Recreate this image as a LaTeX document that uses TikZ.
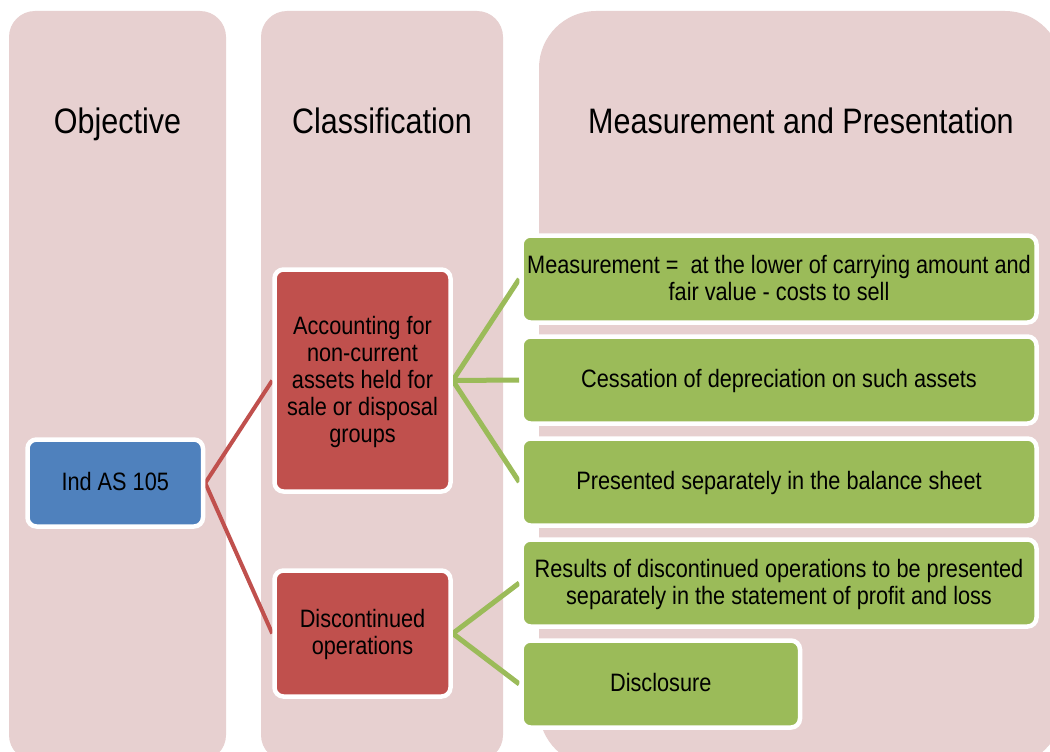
\documentclass[tikz,border=0pt]{standalone}
\usepackage{fontspec}
\setmainfont{Liberation Sans}
\usepackage{graphicx}
\pgfdeclarelayer{cols}
\pgfdeclarelayer{links}
\pgfsetlayers{cols,links,main}

\definecolor{colpink}{RGB}{231,208,208}
\definecolor{boxblue}{RGB}{79,129,189}
\definecolor{boxred}{RGB}{192,80,77}
\definecolor{boxgreen}{RGB}{155,187,89}

\newcommand{\tx}[1]{\raisebox{-2.5pt}[\height][\depth]{\scalebox{1}[1.16]{\begin{tabular}{@{}c@{}}#1\end{tabular}}}}
\newcommand{\ttl}[1]{\scalebox{1}[1.16]{#1}}

\begin{document}
\begin{tikzpicture}[x=1pt,y=-1pt,
  coltitle/.style={anchor=base, inner sep=0pt, font=\fontsize{30.5}{34}\selectfont},
  box/.style={draw=white, line width=4.5pt, rounded corners=9pt, inner sep=0pt,
              font=\fontsize{21.7}{23.3}\selectfont, text=black},
  bluebox/.style={box, fill=boxblue},
  redbox/.style={box, fill=boxred, minimum width=176},
  greenbox/.style={box, fill=boxgreen, minimum height=87},
  redlink/.style={draw=boxred, line width=4pt, line join=miter},
  greenlink/.style={draw=boxgreen, line width=5pt, line join=miter}]

\useasboundingbox (0,0) rectangle (1050,752);

\begin{pgfonlayer}{cols}
  \fill[white] (0,0) rectangle (1050,752);
  \fill[colpink, rounded corners=26] (9,11) rectangle (226,761);
  \fill[colpink, rounded corners=26] (261,11) rectangle (503,761);
  \fill[colpink, rounded corners=57] (539,11) rectangle (1062,766);
\end{pgfonlayer}

% column titles
\node[coltitle] (t1) at (117.5,133) {\ttl{Objective}};
\node[coltitle] (t2) at (382,133) {\ttl{Classification}};
\node[coltitle] (t3) at (801,133) {\ttl{Measurement and Presentation}};

% boxes
\node[bluebox, minimum width=175.5, minimum height=87] (ind) at (115.25,483) {\tx{Ind AS 105}};
\node[redbox, minimum height=222] (acc) at (362.5,380.5)
  {\tx{Accounting for\\non-current\\assets held for\\sale or disposal\\groups}};
\node[redbox, minimum height=126] (disc) at (362.5,633.5) {\tx{Discontinued\\operations}};

\node[greenbox, minimum width=515] (g1) at (779,279)
  {\tx{Measurement =\ \ at the lower of carrying amount and\\fair value - costs to sell}};
\node[greenbox, minimum width=515] (g2) at (779,380) {\tx{Cessation of depreciation on such assets}};
\node[greenbox, minimum width=515] (g3) at (779,482) {\tx{Presented separately in the balance sheet}};
\node[greenbox, minimum width=515] (g4) at (779,583)
  {\tx{Results of discontinued operations to be presented\\separately in the statement of profit and loss}};
\node[greenbox, minimum width=278.5] (g5) at (660.75,684) {\tx{Disclosure}};

% connectors
\begin{pgfonlayer}{links}
  \draw[redlink] (acc.west) -- (ind.east) -- (disc.west);
  \draw[greenlink] (g1.west) -- (acc.east) -- (g3.west);
  \draw[greenlink] (acc.east) -- (g2.west);
  \draw[greenlink] (g4.west) -- (disc.east) -- (g5.west);
\end{pgfonlayer}
\end{tikzpicture}
\end{document}
